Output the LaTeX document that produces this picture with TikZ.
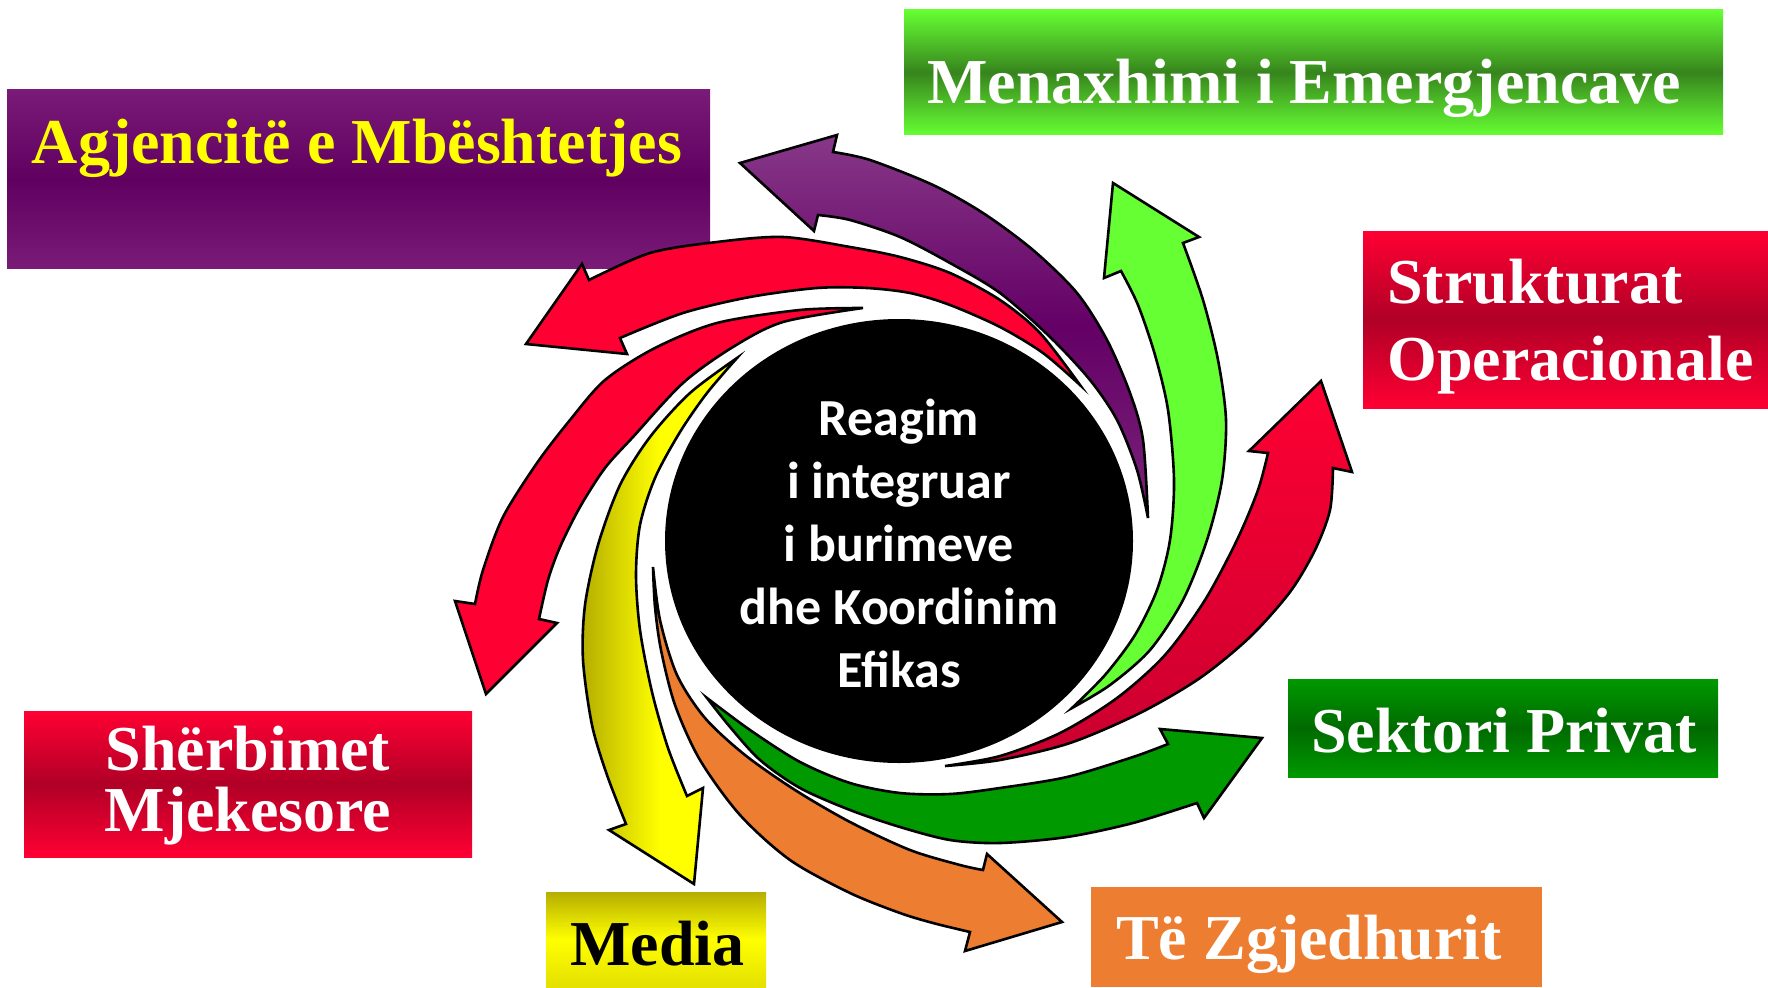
\documentclass[tikz,border=0pt]{standalone}
\usepackage{fontspec}
\setmainfont{Liberation Serif}
\newfontfamily\calfont{Carlito}
\usepackage{tikz}
\usetikzlibrary{positioning, shapes.geometric}

\definecolor{purpL}{HTML}{7A1B78}
\definecolor{purpD}{HTML}{600060}
\definecolor{arwP}{HTML}{873888}
\definecolor{arwPD}{HTML}{640066}
\definecolor{arwPB}{HTML}{7A2479}
\definecolor{limeA}{HTML}{66FF33}
\definecolor{limeD}{HTML}{37841D}
\definecolor{redA}{HTML}{FF0033}
\definecolor{redD}{HTML}{B00026}
\definecolor{redT}{HTML}{C8002F}
\definecolor{grnA}{HTML}{009900}
\definecolor{grnD}{HTML}{006A00}
\definecolor{orgA}{HTML}{ED7D31}
\definecolor{ylwA}{HTML}{FFFF00}
\definecolor{ylwD}{HTML}{B5AE00}
\definecolor{ylwB}{HTML}{E4E000}

\begin{document}
\begin{tikzpicture}[x = 1pt, y = -1pt,
    panel/.style = {rectangle, inner sep = 0pt, outer sep = 0pt},
    lbl/.style = {font = \fontsize{64}{61}\selectfont\bfseries, text = white, inner sep = 0pt},
    swirl/.style = {draw = black, line width = 2.6pt, line join = miter}]
    \useasboundingbox (0,0) rectangle (1768,987);

    % boxes
    \node[panel, minimum width = 703pt, minimum height = 178pt,
        top color = purpL, bottom color = purpL, middle color = purpD] (agj) at (358.5,179) {};
    \node[panel, minimum width = 819pt, minimum height = 125pt,
        top color = limeA, bottom color = limeA, middle color = limeD] (men) at (1313.5,72.5) {};
    \node[panel, minimum width = 405pt, minimum height = 177pt,
        top color = redA, bottom color = redA, middle color = redD] (str) at (1565.5,319.5) {};
    \node[panel, minimum width = 448pt, minimum height = 146pt,
        top color = redA, bottom color = redA, middle color = redD] (sherb) at (248,784) {};
    \node[panel, minimum width = 430pt, minimum height = 98pt,
        top color = grnA, bottom color = grnA, middle color = grnD] (sek) at (1503,728) {};
    \node[panel, minimum width = 451pt, minimum height = 100pt, fill = orgA] (zgj) at (1316.5,937) {};
    \node[panel, minimum width = 220pt, minimum height = 95pt,
        top color = ylwD, bottom color = ylwB, middle color = ylwA] (med) at (656,939.5) {};

    % labels
    \node[lbl, anchor = base, text = ylwA] (agjtxt) at (357,164) {Agjencitë e Mbështetjes};
    \node[lbl, anchor = base west] (mentxt) at (927,104) {Menaxhimi i Emergjencave};
    \node[lbl, anchor = north west, align = left, font = \fontsize{64}{77}\selectfont\bfseries]
        (strtxt) at (1387,259) {Strukturat\\Operacionale};
    \node[lbl, anchor = north, align = center] (sherbtxt) at (248,726) {Shërbimet\\Mjekesore};
    \node[lbl, anchor = base west] (sektxt) at (1311,752) {Sektori Privat};
    \node[lbl, anchor = base west] (zgjtxt) at (1116,959) {Të Zgjedhurit};
    \node[lbl, anchor = base west, text = black] (medtxt) at (570,965) {Media};

    % centre
    \node[ellipse, fill = black, minimum width = 468pt, minimum height = 444pt, inner sep = 0pt]
        (core) at (899,541) {};
    \node[font = {\calfont\bfseries\fontsize{52}{63}\selectfont}, text = white, align = center, inner sep = 0pt]
        (coretxt) at (899,543) {Reagim\\i integruar\\i burimeve\\dhe Koordinim\\Efikas};

    % swirl arrows
    \draw[swirl, top color = arwP, bottom color = arwPB, middle color = arwPD]
        plot[smooth] coordinates {(1148,518) (1143,440) (1130,393) (1107,340) (1077,293) (1033,250) (983,213) (933,185) (870,160) (833,152)}
        -- (837,135) -- (740,163) -- (814,231)
        -- plot[smooth] coordinates {(818,215) (850,220) (900,237) (950,263) (1000,293) (1050,337) (1090,380) (1117,420) (1137,470) (1148,518)}
        -- cycle;
    \draw[swirl, fill = redA]
        plot[smooth] coordinates {(1080,385) (1040,333) (1000,300) (950,273) (900,257) (850,247) (783,237) (717,242) (650,253) (589,280)}
        -- (582,264) -- (526,344) -- (627,354)
        -- plot[smooth] coordinates {(620,338) (683,313) (750,297) (817,288) (867,288) (910,293) (950,305) (1000,327) (1043,353) (1080,385)}
        -- cycle;
    \draw[swirl, fill = limeA]
        plot[smooth] coordinates {(1072,708) (1105,675) (1135,635) (1157,590) (1170,540) (1174,480) (1168,410) (1155,355) (1138,305) (1121,271)}
        -- (1104,278) -- (1113,183) -- (1199,237)
        -- plot[smooth] coordinates {(1183,243) (1203,300) (1218,360) (1226,420) (1222,480) (1207,540) (1183,600) (1150,650) (1110,685) (1072,708)}
        -- cycle;
    \draw[swirl, top color = redA, bottom color = redT]
        plot[smooth] coordinates {(945,766) (1000,756) (1060,733) (1117,698) (1165,655) (1205,600) (1237,540) (1258,490) (1268,453)}
        -- (1249,451) -- (1321,381) -- (1352,472)
        -- plot[smooth] coordinates {(1333,468) (1330,510) (1315,550) (1290,592) (1250,637) (1200,678) (1140,713) (1070,743) (1000,760) (945,766)}
        -- cycle;
    \draw[swirl, fill = grnA]
        plot[smooth] coordinates {(707,698) (750,730) (800,762) (850,783) (900,793) (950,794) (1000,788) (1067,777) (1133,757) (1168,744)}
        -- (1160,729) -- (1262,738) -- (1204,818)
        -- plot[smooth] coordinates {(1197,803) (1133,823) (1067,837) (1000,843) (950,840) (900,827) (850,810) (800,788) (760,760) (730,727) (707,698)}
        -- cycle;
    \draw[swirl, fill = orgA]
        plot[smooth] coordinates {(653,567) (660,620) (677,675) (705,718) (745,755) (795,790) (850,822) (910,850) (960,865) (983,870)}
        -- (987,854) -- (1062,922) -- (965,951)
        -- plot[smooth] coordinates {(970,932) (933,923) (900,913) (850,893) (790,860) (740,815) (700,760) (675,705) (661,650) (655,607) (653,567)}
        -- cycle;
    \draw[swirl, left color = ylwD, right color = ylwA, middle color = ylwA]
        plot[smooth] coordinates {(737,358) (690,393) (650,437) (620,485) (598,545) (585,605) (583,660) (592,725) (607,775) (626,824)}
        -- (609,830) -- (694,884) -- (703,788)
        -- plot[smooth] coordinates {(687,796) (668,748) (652,692) (640,630) (636,575) (640,525) (655,478) (680,432) (707,393) (737,358)}
        -- cycle;
    \draw[swirl, fill = redA]
        plot[smooth] coordinates {(863,308) (800,310) (717,323) (655,348) (605,380) (570,420) (537,463) (503,517) (483,570) (475,604)}
        -- (455,601) -- (486,694) -- (557,623)
        -- plot[smooth] coordinates {(539,619) (548,580) (560,547) (580,507) (605,468) (633,437) (683,383) (733,347) (783,322) (863,308)}
        -- cycle;
\end{tikzpicture}
\end{document}
